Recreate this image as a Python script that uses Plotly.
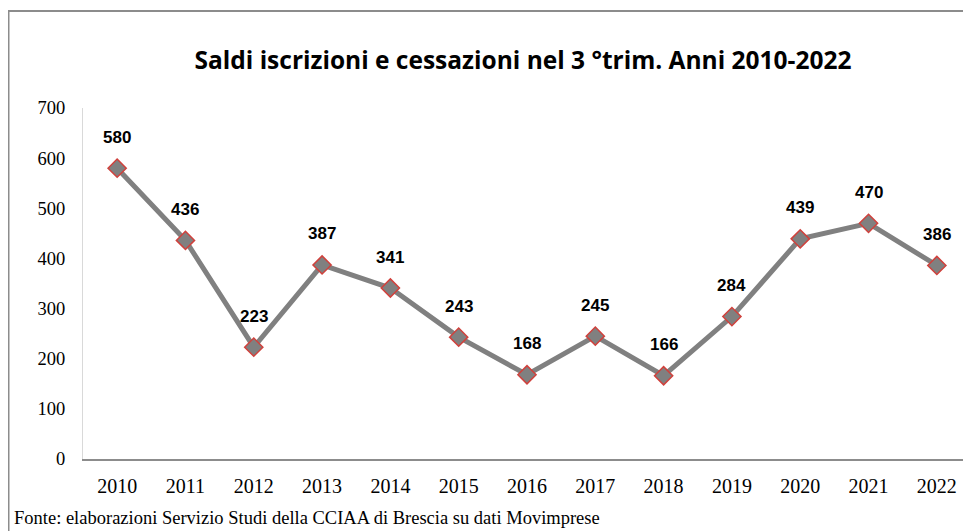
import plotly.graph_objects as go

years = ["2010", "2011", "2012", "2013", "2014", "2015", "2016", "2017", "2018", "2019", "2020", "2021", "2022"]
saldi = [580, 436, 223, 387, 341, 243, 168, 245, 166, 284, 439, 470, 386]
y_ticks = [0, 100, 200, 300, 400, 500, 600, 700]

# the page body has an 8px margin, so the figure is drawn 8px smaller and offset
OFF = 8
W, H = 971 - OFF, 531 - OFF
L, R, T, B = 83 - OFF, 0, 108 - OFF, 531 - 459
pw, ph = W - L - R, H - T - B

def px_x(p):
    return (p - OFF - L) / pw

def px_y(p):
    return (H - B - (p - OFF)) / ph

fig = go.Figure()
fig.add_trace(go.Scatter(
    x=years, y=saldi, mode="lines+markers",
    line=dict(color="#808080", width=5),
    marker=dict(symbol="diamond", size=14, color="#808080",
                line=dict(color="#d0413c", width=1.5)),
    hoverinfo="x+y", showlegend=False,
))

for i, v in enumerate(saldi):
    fig.add_annotation(x=i, y=v, text=f"<b>{v}</b>", showarrow=False,
                       yshift=31, font=dict(family="Liberation Sans, Arial", size=17, color="#000"))

fig.add_annotation(xref="paper", yref="paper", x=px_x(12), y=px_y(518),
                   xanchor="left", yanchor="middle", showarrow=False,
                   text="Fonte: elaborazioni Servizio Studi della CCIAA di Brescia su dati Movimprese",
                   font=dict(family="Liberation Serif, Times New Roman", size=18.5, color="#000"))

# outer frame (top and left edges visible)
fig.add_shape(type="line", xref="paper", yref="paper", x0=px_x(OFF), x1=px_x(980),
              y0=px_y(11), y1=px_y(11), line=dict(color="#8c8c8c", width=2))
fig.add_shape(type="line", xref="paper", yref="paper", x0=px_x(OFF), x1=px_x(OFF),
              y0=px_y(11), y1=px_y(540), line=dict(color="#8c8c8c", width=3))

fig.update_layout(
    width=W, height=H,
    margin=dict(l=L, r=R, t=T, b=B),
    paper_bgcolor="white", plot_bgcolor="white",
    title=dict(text="<b>Saldi iscrizioni e cessazioni nel 3 °trim. Anni 2010-2022</b>",
               x=(523 - OFF) / W, xanchor="center", y=1 - (60 - OFF) / H, yanchor="middle",
               font=dict(family="Open Sans, sans-serif", size=24.5, color="#000")),
    xaxis=dict(type="category", range=[-0.5, 12.5], showgrid=False, zeroline=False,
               showline=True, linecolor="#8c8c8c", linewidth=2, ticks="",
               ticklabelstandoff=8,
               tickfont=dict(family="Liberation Serif, Times New Roman", size=20, color="#000")),
    yaxis=dict(range=[0, 700], tickvals=y_ticks, showgrid=False, zeroline=False,
               showline=True, linecolor="#d9d9d9", linewidth=1, ticks="",
               ticklabelstandoff=13,
               tickfont=dict(family="Liberation Serif, Times New Roman", size=18.5, color="#000")),
)

fig.write_html("out.html")
